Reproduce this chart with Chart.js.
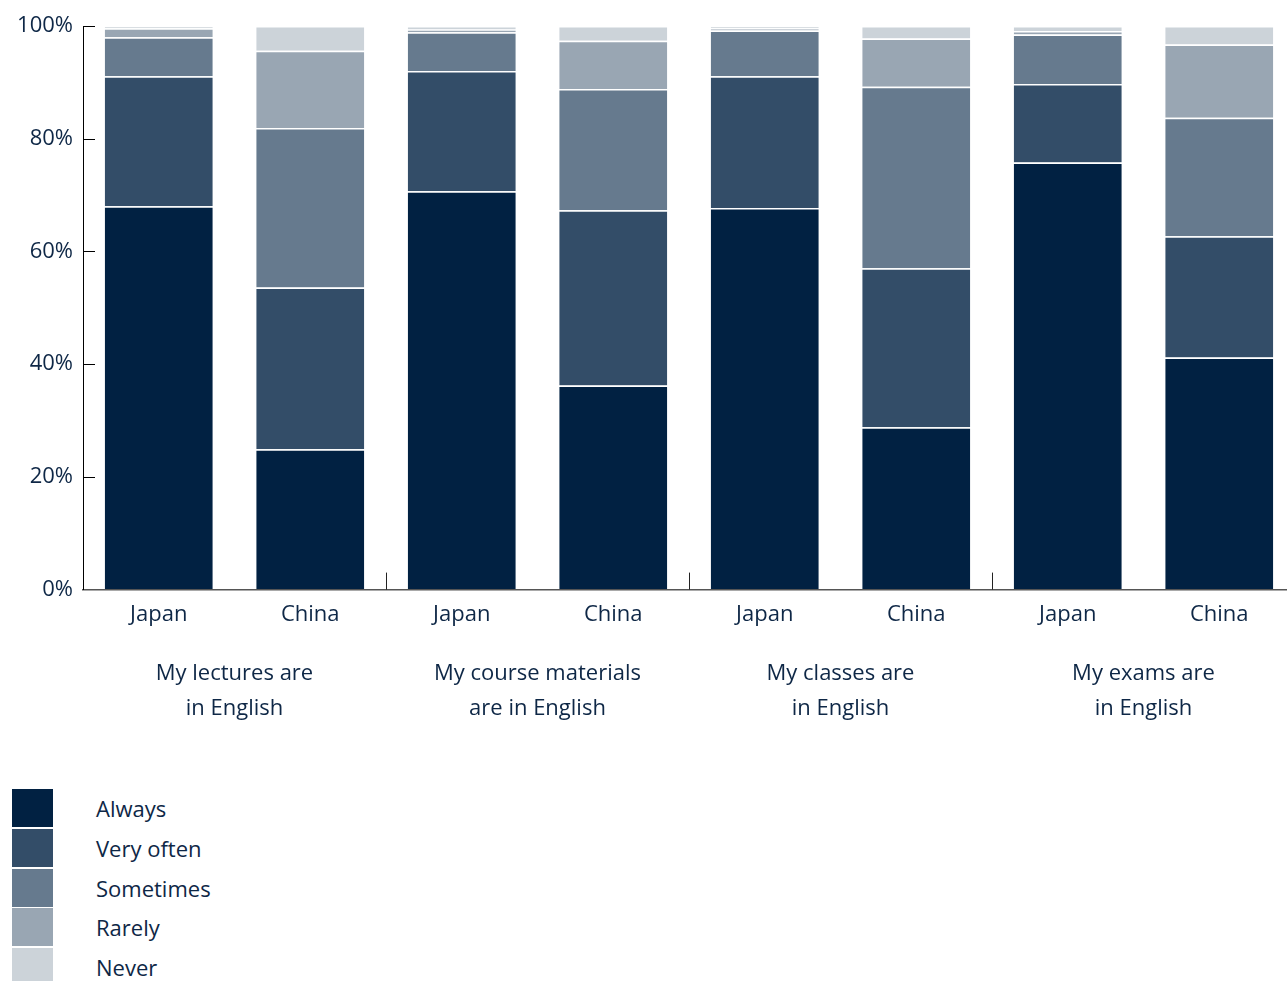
<!DOCTYPE html>
<html>
<head>
<meta charset="utf-8">
<script src="https://cdn.jsdelivr.net/npm/chart.js@4.4.1/dist/chart.umd.min.js"></script>
<style>
  html, body { margin: 0; padding: 0; background: #fff; overflow: hidden; }
  body { width: 1287px; height: 981px; position: relative; font-family: "Open Sans", sans-serif; }
  #wrap { position: absolute; left: 0; top: 0; width: 1296px; height: 750px; }
  #legend { position: absolute; left: 12px; top: 789px; width: 300px; }
  .item { position: relative; height: 39.8px; }
  .box { position: absolute; left: 0; top: 0; width: 41px; height: 38px; }
  .lbl { position: absolute; left: 84px; top: 0; line-height: 38px; font-size: 22px; color: #0e2746; white-space: nowrap; }
</style>
</head>
<body>
<div id="wrap"><canvas id="chart"></canvas></div>
<div id="legend"></div>
<script>
// categories and groups
const countries = ['Japan', 'China', 'Japan', 'China', 'Japan', 'China', 'Japan', 'China'];
const groupLabels = [
  ['My lectures are', 'in English'],
  ['My course materials', 'are in English'],
  ['My classes are', 'in English'],
  ['My exams are', 'in English']
];
const yTicks = [0, 20, 40, 60, 80, 100];

// share of answers, %
const always    = [68.0, 24.9, 70.7, 36.2, 67.7, 28.8, 75.8, 41.2];
const veryOften = [23.1, 28.7, 21.3, 31.1, 23.4, 28.2, 13.9, 21.5];
const sometimes = [ 6.9, 28.3,  6.9, 21.5,  8.1, 32.2,  8.8, 21.0];
const rarely    = [ 1.6, 13.7,  0.5,  8.6,  0.4,  8.6,  0.6, 13.0];
const never     = [ 0.4,  4.4,  0.6,  2.6,  0.4,  2.2,  0.9,  3.3];

const seriesNames = ['Always', 'Very often', 'Sometimes', 'Rarely', 'Never'];
const colors = ['#012142', '#334d68', '#667a8e', '#99a6b3', '#ccd3d9'];
const textColor = '#0e2746';
const fontFamily = '"Open Sans", sans-serif';

const series = [always, veryOften, sometimes, rarely, never];
const datasets = series.map((d, i) => ({
  label: seriesNames[i],
  data: d,
  backgroundColor: colors[i],
  borderColor: '#ffffff',
  borderWidth: { top: 1.5, right: 0, bottom: 0, left: 0 },
  borderSkipped: false,
  categoryPercentage: 1,
  barPercentage: 0.713
}));

// inward y ticks, group separators and group labels
const extras = {
  id: 'extras',
  afterDraw(chart) {
    const ctx = chart.ctx;
    const x = chart.scales.x, y = chart.scales.y;
    const area = chart.chartArea;
    ctx.save();
    ctx.strokeStyle = '#000';
    ctx.lineWidth = 1;
    yTicks.forEach(v => {
      const py = Math.round(y.getPixelForValue(v)) + 0.5;
      if (v === 0) return;
      ctx.beginPath();
      ctx.moveTo(area.left, py);
      ctx.lineTo(area.left + 12, py);
      ctx.stroke();
    });
    ctx.strokeStyle = '#222';
    for (let g = 1; g < groupLabels.length; g++) {
      const px = Math.round((x.getPixelForValue(g * 2 - 1) + x.getPixelForValue(g * 2)) / 2) + 0.5;
      ctx.beginPath();
      ctx.moveTo(px, area.bottom);
      ctx.lineTo(px, area.bottom - 17);
      ctx.stroke();
    }
    ctx.fillStyle = textColor;
    ctx.font = '22px ' + fontFamily;
    ctx.textAlign = 'center';
    ctx.textBaseline = 'middle';
    groupLabels.forEach((lines, g) => {
      const cx = (x.getPixelForValue(g * 2) + x.getPixelForValue(g * 2 + 1)) / 2;
      lines.forEach((t, k) => ctx.fillText(t, cx, 674 + k * 35));
    });
    ctx.restore();
  }
};

new Chart(document.getElementById('chart'), {
  type: 'bar',
  data: { labels: countries, datasets },
  plugins: [extras],
  options: {
    responsive: true,
    maintainAspectRatio: false,
    animation: false,
    layout: { padding: { top: 26, right: 1, bottom: 110, left: 0 } },
    plugins: { legend: { display: false }, tooltip: { enabled: false } },
    scales: {
      x: {
        stacked: true,
        grid: { display: true, drawOnChartArea: false, drawTicks: false },
        border: { display: true, color: '#555', width: 1.5 },
        ticks: { color: textColor, font: { family: fontFamily, size: 22 }, padding: 12 }
      },
      y: {
        stacked: true,
        min: 0,
        max: 100,
        afterFit: s => { s.width = 83; },
        grid: { display: true, drawOnChartArea: false, drawTicks: false },
        border: { display: true, color: '#000', width: 1 },
        ticks: {
          stepSize: 20,
          padding: 10,
          color: textColor,
          font: { family: fontFamily, size: 22 },
          callback: v => v + '%'
        }
      }
    }
  }
});

// legend
const legend = document.getElementById('legend');
seriesNames.forEach((n, i) => {
  const it = document.createElement('div');
  it.className = 'item';
  it.innerHTML = '<div class="box" style="background:' + colors[i] + '"></div><div class="lbl">' + n + '</div>';
  legend.appendChild(it);
});
</script>
</body>
</html>
